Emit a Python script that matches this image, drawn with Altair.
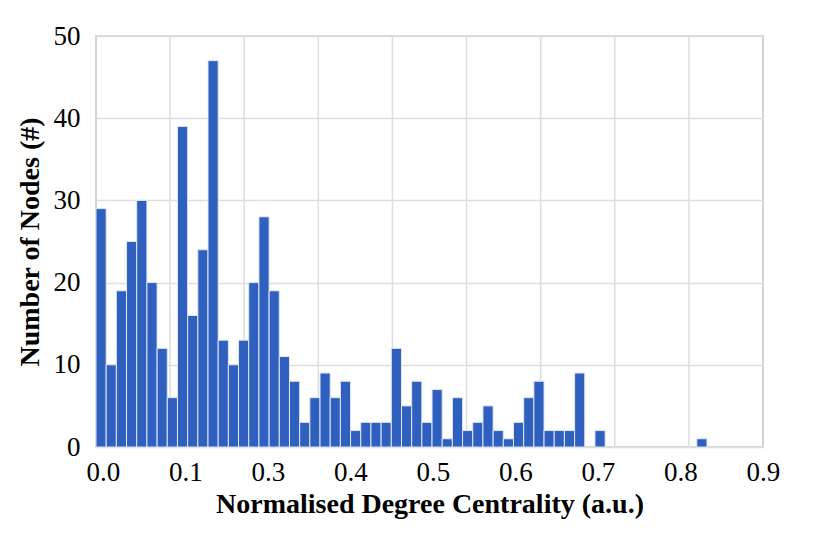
import altair as alt
import pandas as pd

# Histogram counts per bin, bins start at 0
counts = [29, 10, 19, 25, 30, 20, 12, 6, 39, 16,
          24, 47, 13, 10, 13, 20, 28, 19, 11, 8,
          3, 6, 9, 6, 8, 2, 3, 3, 3, 12,
          5, 8, 3, 7, 1, 6, 2, 3, 5, 2,
          1, 3, 6, 8, 2, 2, 2, 9, 0, 2,
          0, 0, 0, 0, 0, 0, 0, 0, 0, 1]
bin_width = 0.01374

grid_x = [0.1, 0.2, 0.3, 0.4, 0.5, 0.6, 0.7, 0.8]
label_text = ["0.0", "0.1", "0.3", "0.4", "0.5", "0.6", "0.7", "0.8", "0.9"]
label_start = 0.0094
label_step = 0.1113
label_pos = [round(label_start + i * label_step, 4) for i in range(len(label_text))]
y_ticks = [0, 10, 20, 30, 40, 50]

bars = pd.DataFrame({
    "start": [i * bin_width for i in range(len(counts))],
    "end": [(i + 1) * bin_width for i in range(len(counts))],
    "count": counts,
    "zero": [0] * len(counts),
})
bars = bars[bars["count"] > 0]
grid_df = pd.DataFrame({"g": grid_x})

FONT = "Liberation Serif"
xscale = alt.Scale(domain=[0, 0.9], nice=False, zero=False)
yscale = alt.Scale(domain=[0, 50], nice=False)

labels_js = "[" + ",".join("'%s'" % t for t in label_text) + "]"

grid = alt.Chart(grid_df).mark_rule(color="#dedede", strokeWidth=1.5).encode(
    x=alt.X("g:Q", scale=xscale,
            axis=alt.Axis(values=label_pos,
                          labelExpr=labels_js + "[round((datum.value-%s)/%s)]" % (label_start, label_step),
                          grid=False, ticks=False, domain=False,
                          labelFlush=False, labelOverlap=False, labelBound=False,
                          labelFont=FONT, labelFontSize=27, labelColor="black",
                          labelPadding=12,
                          title="Normalised Degree Centrality (a.u.)",
                          titleFont=FONT, titleFontSize=28, titleFontWeight="bold",
                          titleColor="black", titlePadding=5)),
    y=alt.value(0),
    y2=alt.value(411),
)

bar = alt.Chart(bars).mark_bar(color="#2f5fbf", stroke="#dfe7f7", strokeWidth=1).encode(
    x=alt.X("start:Q", scale=xscale),
    x2="end:Q",
    y=alt.Y("count:Q", scale=yscale,
            axis=alt.Axis(values=y_ticks, grid=True, gridColor="#dedede", gridWidth=1.5,
                          ticks=False, domain=False,
                          labelFont=FONT, labelFontSize=27, labelColor="black",
                          labelPadding=16,
                          title="Number of Nodes (#)",
                          titleFont=FONT, titleFontSize=28, titleFontWeight="bold",
                          titleColor="black", titlePadding=9)),
    y2="zero:Q",
    tooltip=["start:Q", "count:Q"],
)

chart = alt.layer(grid, bar).properties(
    width=667, height=411,
    autosize=alt.AutoSizeParams(type="none"),
    padding={"left": 88, "top": 28, "right": 50, "bottom": 85},
).configure_view(stroke="#d4d4d4", strokeWidth=2)

chart.save("out.html", embed_options={"renderer": "svg", "actions": False})
